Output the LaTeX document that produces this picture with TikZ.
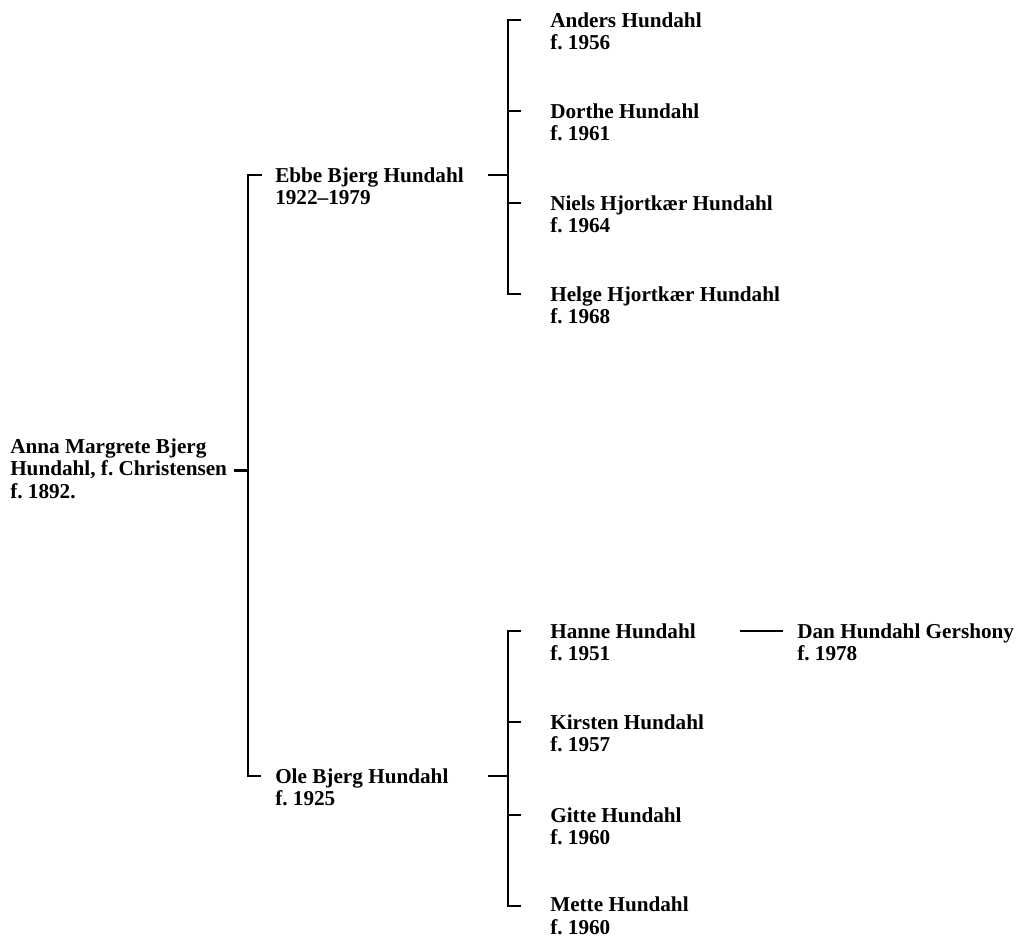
\documentclass[tikz,border=0pt]{standalone}
\usepackage{fontspec}
\setmainfont{Liberation Serif}
\frenchspacing
\usetikzlibrary{calc,positioning}
\tikzset{
    every picture/.style={line width=0.5pt},
    person/.style={align=left,anchor=north west,inner sep=0pt,
        font=\bfseries\fontsize{21.2}{22.5}\selectfont},
    link/.style={line width=2.7pt}
}
\begin{document}
\begin{tikzpicture}[x=1pt,y=-1pt]
    \useasboundingbox (0,0) rectangle (1024,939);
    \node[person] (anna) at (10,438.5) {Anna Margrete Bjerg\\Hundahl, f. Christensen\\f. 1892.};
    \node[person] (ebbe) at (275,167.5) {Ebbe Bjerg Hundahl\\1922--1979};
    \node[person] (ole) at (275,768.5) {Ole Bjerg Hundahl\\f. 1925};
    \node[person] (anders) at (550,12.5) {Anders Hundahl\\f. 1956};
    \node[person] (dorthe) at (550,103.5) {Dorthe Hundahl\\f. 1961};
    \node[person] (niels) at (550,195.5) {Niels Hjortkær Hundahl\\f. 1964};
    \node[person] (helge) at (550,286.5) {Helge Hjortkær Hundahl\\f. 1968};
    \node[person] (hanne) at (550,623.5) {Hanne Hundahl\\f. 1951};
    \node[person] (kirsten) at (550,714.5) {Kirsten Hundahl\\f. 1957};
    \node[person] (gitte) at (550,807.5) {Gitte Hundahl\\f. 1960};
    \node[person] (mette) at (550,897) {Mette Hundahl\\f. 1960};
    \node[person] (dan) at (797,623.5) {Dan Hundahl Gershony\\f. 1978};

    \draw[link] ($(anna.north west)+(224,32)$) -- +(14,0);
    \draw[link] ($(ebbe.north west)+(-13,7.5)$) -| ($(ole.north west)+(-27,7.5)$) -- +(13,0);

    \draw[link] ($(ebbe.north west)+(213,7.5)$) -- +(20,0);
    \draw[link] ($(anders.north west)+(-29,7.5)$) -| ($(helge.north west)+(-42,7.5)$) -- +(13,0);
    \foreach \k in {dorthe,niels}
        \draw[link] ($(\k.north west)+(-29,7.5)$) -- +(-13,0);

    \draw[link] ($(ole.north west)+(213,7.5)$) -- +(20,0);
    \draw[link] ($(hanne.north west)+(-29,7.5)$) -| ($(mette.north west)+(-42,9)$) -- +(13,0);
    \foreach \k in {kirsten,gitte}
        \draw[link] ($(\k.north west)+(-29,7.5)$) -- +(-13,0);

    \draw[link] ($(hanne.north west)+(190,7.5)$) -- ($(dan.north west)+(-14,7.5)$);
\end{tikzpicture}
\end{document}
